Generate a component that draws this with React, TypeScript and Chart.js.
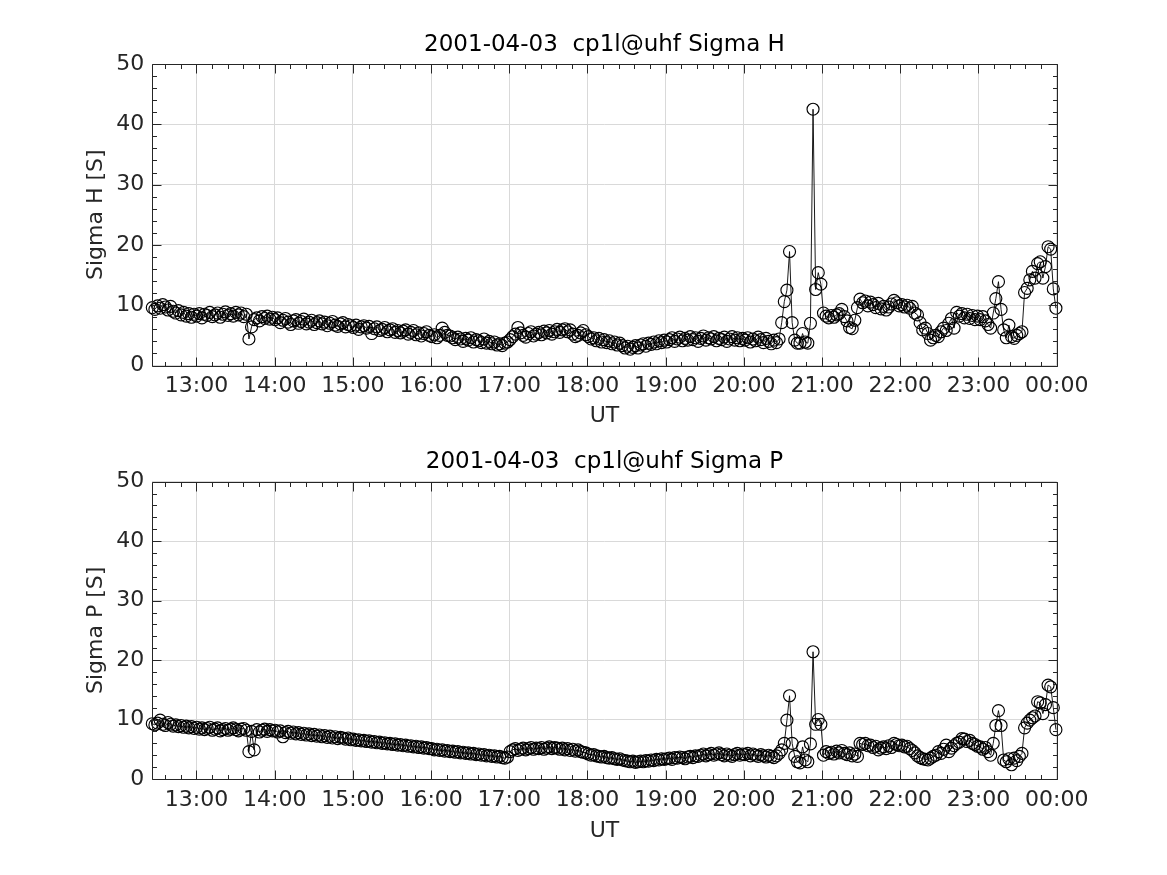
import React, { useEffect, useRef } from "react";
import { Chart, registerables } from "chart.js";

Chart.register(...registerables);

// ---------- data ----------
const DATE_TEXT = "2001-04-03";
const FIRST_HOUR = 12.435; // 12:26 UT
const LAST_HOUR = 23.99; // 23:59 UT
const X_MIN = 12.435;
const X_MAX = 24;
const HOUR_TICKS = [13, 14, 15, 16, 17, 18, 19, 20, 21, 22, 23, 24];
const HOUR_LABELS = ["13:00", "14:00", "15:00", "16:00", "17:00", "18:00", "19:00", "20:00", "21:00", "22:00", "23:00", "00:00"];
const Y_TICKS = [0, 10, 20, 30, 40, 50];

const sigmaH = [
  // 12:26 - 12:59
  9.6, 9.3, 9.9, 9.5, 10.1, 9.7, 9.2, 9.8, 9.0, 8.7, 9.1, 8.4, 8.8, 8.2, 8.6, 8.0, 8.5,
  // 13
  8.2, 8.6, 7.9, 8.5, 8.3, 8.8, 8.1, 8.4, 8.7, 8.0, 8.5, 8.9, 8.3, 8.6, 8.2, 8.8, 8.4, 8.7, 8.1, 8.5,
  4.4, 6.4, 7.6, 7.9, 7.4, 8.1, 7.8, 8.2, 7.7, 8.0,
  // 14
  7.6, 7.9, 7.1, 7.5, 7.8, 7.2, 6.8, 7.4, 7.6, 7.0, 7.3, 7.7, 6.9, 7.2, 7.5, 6.8, 7.1, 7.4, 6.9, 7.2,
  6.6, 7.0, 7.3, 6.7, 6.5, 6.9, 7.1, 6.4, 6.8, 6.6,
  // 15
  6.3, 6.7, 6.0, 6.4, 6.6, 6.2, 6.5, 5.3, 6.1, 6.4, 5.8, 6.0, 6.3, 5.6, 5.9, 6.1, 5.5, 5.8, 5.4, 5.7,
  5.9, 5.2, 5.5, 5.8, 5.1, 5.4, 4.9, 5.3, 5.6, 5.0,
  // 16
  4.8, 5.1, 4.6, 5.0, 6.2, 5.5, 5.0, 4.9, 4.6, 4.3, 4.7, 4.4, 4.0, 4.5, 4.2, 4.6, 3.9, 4.3, 4.1, 3.8,
  4.4, 3.7, 4.0, 3.6, 3.9, 3.4, 3.6, 3.3, 3.7, 3.9,
  // 17
  4.3, 4.8, 5.2, 6.3, 5.4, 5.0, 4.7, 5.3, 5.6, 4.9, 5.2, 5.5, 5.1, 5.7, 5.4, 5.8, 5.2, 5.6, 6.0, 5.5,
  5.9, 6.1, 5.6, 5.9, 5.2, 4.8, 5.0, 5.4, 5.8, 5.1,
  // 18
  4.8, 4.4, 4.6, 4.1, 4.5, 3.9, 4.3, 3.8, 4.1, 3.6, 3.9, 3.4, 3.7, 3.3, 2.9, 3.2, 2.7, 3.0, 3.3, 2.9,
  3.4, 3.6, 3.2, 3.7, 3.5, 3.9, 3.6, 4.1, 3.8, 4.2,
  // 19
  3.9, 4.3, 4.6, 4.0, 4.4, 4.7, 4.1, 4.5, 4.2, 4.8, 4.3, 4.6, 4.0, 4.5, 4.9, 4.2, 4.6, 4.4, 4.8, 4.1,
  4.5, 4.3, 4.7, 4.0, 4.4, 4.8, 4.2, 4.6, 4.1, 4.5,
  // 20
  4.2, 4.6, 3.9, 4.4, 4.1, 4.7, 4.3, 3.8, 4.5, 4.0, 3.6, 4.2, 3.8, 4.4, 7.1, 10.6, 12.5, 18.9, 7.1, 4.2,
  3.7, 3.7, 5.3, 3.9, 3.7, 7.0, 42.5, 12.6, 15.4, 13.5,
  // 21
  8.7, 8.2, 7.9, 8.3, 8.0, 8.4, 8.6, 9.3, 8.1, 7.4, 6.3, 6.1, 7.5, 9.6, 11.0, 10.4, 10.7, 9.9, 10.5, 10.1,
  9.6, 10.3, 9.4, 9.8, 9.2, 9.7, 10.2, 10.8, 10.4, 9.9,
  // 22
  10.1, 9.7, 10.0, 9.5, 9.8, 8.7, 8.4, 7.1, 5.9, 6.2, 5.3, 4.2, 4.6, 5.0, 4.8, 5.6, 6.2, 5.8, 7.0, 7.8,
  6.2, 8.8, 8.2, 8.6, 7.9, 8.5, 7.8, 8.3, 7.6, 8.2,
  // 23
  7.6, 8.1, 7.4, 6.8, 6.2, 8.7, 11.1, 13.9, 9.3, 5.9, 4.6, 6.7, 4.8, 4.5, 5.0, 5.3, 5.6, 12.1, 12.8, 14.2,
  15.6, 14.5, 16.9, 17.2, 14.5, 16.4, 19.7, 19.3, 12.7, 9.5,
];

const sigmaP = [
  // 12:26 - 12:59
  9.3, 9.1, 9.4, 9.9, 9.2, 9.0, 9.5, 9.2, 8.9, 9.1, 8.8, 9.0, 8.7, 8.9, 8.6, 8.8, 8.5,
  // 13
  8.7, 8.4, 8.6, 8.3, 8.5, 8.7, 8.2, 8.4, 8.6, 8.1, 8.3, 8.5, 8.2, 8.4, 8.6, 8.3, 8.1, 8.4, 8.5, 8.2,
  4.6, 8.0, 4.9, 8.3, 7.9, 8.2, 8.4, 8.0, 8.3, 8.1,
  // 14
  8.2, 7.9, 8.1, 7.1, 7.8, 8.0, 7.7, 7.9, 7.6, 7.8, 7.5, 7.7, 7.4, 7.6, 7.3, 7.5, 7.2, 7.4, 7.1, 7.3,
  7.0, 7.2, 6.9, 7.1, 6.8, 7.0, 6.9, 6.7, 6.9, 6.6,
  // 15
  6.7, 6.5, 6.6, 6.4, 6.5, 6.3, 6.4, 6.2, 6.3, 6.1, 6.2, 6.0, 6.1, 5.9, 6.0, 5.8, 5.9, 5.7, 5.8, 5.6,
  5.7, 5.5, 5.6, 5.4, 5.5, 5.3, 5.4, 5.2, 5.3, 5.1,
  // 16
  5.1, 4.9, 5.0, 4.8, 4.9, 4.7, 4.8, 4.6, 4.7, 4.5, 4.6, 4.4, 4.5, 4.3, 4.4, 4.2, 4.3, 4.1, 4.2, 4.0,
  4.1, 3.9, 4.0, 3.8, 3.9, 3.7, 3.8, 3.6, 3.5, 3.7,
  // 17
  4.6, 4.9, 5.1, 4.8, 5.0, 5.2, 4.9, 5.1, 5.3, 5.0, 5.2, 5.1, 5.3, 5.0, 5.2, 5.4, 5.1, 5.3, 5.2, 5.0,
  5.2, 4.9, 5.1, 4.8, 5.0, 4.7, 4.9, 4.6, 4.5, 4.4,
  // 18
  4.2, 4.0, 4.1, 3.9, 3.8, 3.7, 3.8, 3.6, 3.5, 3.6, 3.4, 3.3, 3.4, 3.2, 3.1, 3.0, 2.9, 3.0, 2.8, 2.9,
  3.0, 2.9, 3.1, 3.0, 3.2, 3.1, 3.3, 3.2, 3.4, 3.3,
  // 19
  3.4, 3.5, 3.3, 3.6, 3.5, 3.7, 3.6, 3.4, 3.7, 3.8, 3.6, 3.9, 3.8, 4.0, 4.2, 3.9, 4.1, 4.3, 4.0, 4.2,
  4.4, 4.1, 3.9, 4.2, 4.0, 3.8, 4.1, 4.3, 4.0, 4.2,
  // 20
  4.1, 4.3, 3.9, 4.2, 4.0, 3.8, 4.1, 3.9, 3.7, 4.0, 3.8, 3.6, 3.9, 4.3, 4.9, 6.0, 9.9, 14.0, 6.0, 3.8,
  2.9, 2.7, 5.4, 3.2, 2.9, 5.9, 21.4, 9.2, 10.0, 9.2,
  // 21
  4.0, 4.6, 4.3, 4.5, 4.2, 4.7, 4.4, 4.8, 4.3, 4.1, 4.4, 3.9, 4.2, 3.8, 6.0, 5.8, 6.0, 5.6, 5.7, 5.3,
  5.5, 4.9, 5.2, 5.4, 5.1, 5.6, 5.3, 6.0, 5.8, 5.6,
  // 22
  5.7, 5.4, 5.5, 5.1, 4.8, 4.4, 3.9, 3.6, 3.4, 3.3, 3.2, 3.5, 3.8, 4.0, 4.6, 4.3, 5.0, 5.7, 4.6, 5.2,
  5.6, 6.0, 6.2, 6.8, 6.7, 6.3, 6.5, 6.0, 5.8, 5.5,
  // 23
  5.4, 5.0, 5.3, 4.6, 4.0, 6.0, 9.0, 11.5, 9.0, 3.2, 2.9, 3.4, 2.4, 3.5, 3.1, 3.8, 4.3, 8.6, 9.4, 9.9,
  10.3, 10.6, 13.0, 12.8, 11.0, 12.5, 15.8, 15.5, 12.0, 8.3,
];

// ---------- styling ----------
const FONT = '"DejaVu Sans", sans-serif';
const TEXT = "#262626";
const GRID = "#d9d9d9";
const FONT_SIZE = 22;
const TITLE_SIZE = 23;
const AREA_LEFT = 152.3;
const AREA_RIGHT = 1056.7;
const CANVAS_W = 1167;

function makeFramePlugin(titleText: string, titleY: number) {
  return {
    id: "matlabFrame",
    afterDraw(chart: any) {
      const { ctx, chartArea } = chart;
      const { left, right, top, bottom } = chartArea;
      const xs = chart.scales.x;
      const ys = chart.scales.y;
      ctx.save();
      ctx.strokeStyle = TEXT;
      ctx.lineWidth = 1;
      const snap = (v: number) => Math.round(v) + 0.5;
      ctx.beginPath();
      ctx.moveTo(snap(left), snap(top));
      ctx.lineTo(snap(right), snap(top));
      ctx.lineTo(snap(right), snap(bottom));
      ctx.lineTo(snap(left), snap(bottom));
      ctx.closePath();
      const kStart = Math.ceil(X_MIN * 5);
      const kEnd = Math.floor(X_MAX * 5);
      for (let k = kStart; k <= kEnd; k++) {
        const px = snap(xs.getPixelForValue(k / 5));
        const len = k % 5 === 0 ? 9 : 4.5;
        ctx.moveTo(px, snap(bottom));
        ctx.lineTo(px, snap(bottom) - len);
        ctx.moveTo(px, snap(top));
        ctx.lineTo(px, snap(top) + len);
      }
      for (let k = 0; k <= 25; k++) {
        const py = snap(ys.getPixelForValue(k * 2));
        const len = k % 5 === 0 ? 9 : 4.5;
        ctx.moveTo(snap(left), py);
        ctx.lineTo(snap(left) + len, py);
        ctx.moveTo(snap(right), py);
        ctx.lineTo(snap(right) - len, py);
      }
      ctx.stroke();
      ctx.fillStyle = "#000";
      ctx.font = `normal ${TITLE_SIZE}px ${FONT}`;
      ctx.textAlign = "center";
      ctx.textBaseline = "middle";
      ctx.fillText(titleText, (left + right) / 2, titleY);
      ctx.restore();
    },
  };
}

function makeConfig(
  values: number[],
  titleText: string,
  yLabel: string,
  canvasH: number,
  areaTop: number,
  areaBottom: number,
  titleY: number,
  utY: number
): any {
  const step = (LAST_HOUR - FIRST_HOUR) / (values.length - 1);
  const points = values.map((v, i) => ({ x: FIRST_HOUR + i * step, y: v }));
  const lh = FONT_SIZE * 1.2;
  const tickFont = { family: FONT, size: FONT_SIZE, lineHeight: 1 };
  const titleFont = { family: FONT, size: FONT_SIZE, lineHeight: 1.2 };
  return {
    type: "line",
    data: {
      datasets: [
        {
          data: points,
          borderColor: "#000",
          borderWidth: 0.9,
          pointStyle: "circle",
          pointRadius: 6,
          pointBorderWidth: 1.15,
          pointBorderColor: "#000",
          pointBackgroundColor: "rgba(0,0,0,0)",
          fill: false,
          tension: 0,
          clip: false,
        },
      ],
    },
    options: {
      animation: false,
      responsive: false,
      events: [],
      layout: { padding: { left: 0, right: CANVAS_W - AREA_RIGHT, top: areaTop, bottom: 0 } },
      plugins: {
        legend: { display: false },
        tooltip: { enabled: false },
        title: { display: false },
      },
      scales: {
        x: {
          type: "linear",
          min: X_MIN,
          max: X_MAX,
          afterFit: (s: any) => {
            s.height = canvasH - areaBottom;
          },
          afterBuildTicks: (s: any) => {
            s.ticks = HOUR_TICKS.map((v) => ({ value: v }));
          },
          ticks: {
            callback: (_v: any, i: number) => HOUR_LABELS[i],
            font: tickFont,
            color: TEXT,
            padding: 10,
            maxRotation: 0,
            autoSkip: false,
          },
          grid: { color: GRID, lineWidth: 1, drawTicks: false },
          border: { display: false },
          title: {
            display: true,
            text: "UT",
            font: titleFont,
            color: TEXT,
            padding: { top: 0, bottom: canvasH - utY - lh / 2 },
          },
        },
        y: {
          type: "linear",
          min: 0,
          max: 50,
          afterFit: (s: any) => {
            s.width = AREA_LEFT;
          },
          afterBuildTicks: (s: any) => {
            s.ticks = Y_TICKS.map((v) => ({ value: v }));
          },
          ticks: {
            font: tickFont,
            color: TEXT,
            padding: 8,
          },
          grid: { color: GRID, lineWidth: 1, drawTicks: false },
          border: { display: false },
          title: {
            display: true,
            text: yLabel,
            font: titleFont,
            color: TEXT,
            padding: { top: 96 - lh / 2, bottom: 0 },
          },
        },
      },
    },
    plugins: [makeFramePlugin(titleText, titleY)],
  };
}

function Panel(props: {
  values: number[];
  title: string;
  yLabel: string;
  top: number;
  height: number;
  areaTop: number;
  areaBottom: number;
  titleY: number;
  utY: number;
}) {
  const ref = useRef<HTMLCanvasElement | null>(null);
  useEffect(() => {
    if (!ref.current) return;
    const chart = new Chart(
      ref.current,
      makeConfig(props.values, props.title, props.yLabel, props.height, props.areaTop, props.areaBottom, props.titleY, props.utY)
    );
    return () => chart.destroy();
  }, []);
  return (
    <canvas
      ref={ref}
      width={CANVAS_W}
      height={props.height}
      style={{ position: "absolute", left: 0, top: props.top, width: CANVAS_W, height: props.height }}
    />
  );
}

export default function App() {
  return (
    <div style={{ position: "absolute", left: 0, top: 0, width: 1167, height: 875, background: "#fff", overflow: "hidden" }}>
      <Panel
        values={sigmaH}
        title={`${DATE_TEXT}  cp1l@uhf Sigma H`}
        yLabel="Sigma H [S]"
        top={0}
        height={437}
        areaTop={64}
        areaBottom={365.5}
        titleY={45}
        utY={416.5}
      />
      <Panel
        values={sigmaP}
        title={`${DATE_TEXT}  cp1l@uhf Sigma P`}
        yLabel="Sigma P [S]"
        top={437}
        height={438}
        areaTop={44.7}
        areaBottom={342}
        titleY={25.5}
        utY={394}
      />
    </div>
  );
}
